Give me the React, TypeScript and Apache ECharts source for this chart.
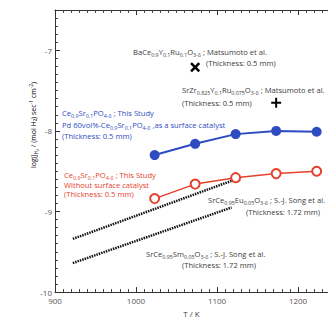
import React, { useEffect, useRef } from "react";
import * as echarts from "echarts";

const blueTemps = [1023, 1073, 1123, 1173, 1223];
const blueFlux = [-8.3, -8.16, -8.04, -8.0, -8.01];
const redTemps = [1023, 1073, 1123, 1173, 1223];
const redFlux = [-8.84, -8.66, -8.58, -8.53, -8.5];
const songEuTemps = [922, 1126];
const songEuFlux = [-9.34, -8.59];
const songSmTemps = [922, 1118];
const songSmFlux = [-9.64, -8.95];
const baCePoint = [1073, -7.21];
const srZrPoint = [1173, -7.65];
const xTicks = [900, 1000, 1100, 1200];
const yTicks = [-10, -9, -8, -7];

const TXT = "#3c3c3c";
const BLUE = "#2d4cc2";
const RED = "#e5412c";
const FONT = "Open Sans";

const X_PATH =
  "path://M1.8,0 L5,3.2 L8.2,0 L10,1.8 L6.8,5 L10,8.2 L8.2,10 L5,6.8 L1.8,10 L0,8.2 L3.2,5 L0,1.8 Z";
const PLUS_PATH = "path://M4,0 H6 V4 H10 V6 H6 V10 H4 V6 H0 V4 H4 Z";

function richFor(color: string, size: number) {
  return {
    n: { fontSize: size, color, fontFamily: FONT, lineHeight: 10, verticalAlign: "middle" },
    s: { fontSize: size * 0.7, color, fontFamily: FONT, lineHeight: 10, verticalAlign: "bottom", padding: [3, 0, 0, 0] },
    p: { fontSize: size * 0.7, color, fontFamily: FONT, lineHeight: 10, verticalAlign: "top" },
  };
}

function note(x: number, y: number, text: string, color: string = TXT, size = 7.6) {
  return {
    type: "text",
    x,
    y,
    z: 100,
    style: {
      text,
      rich: richFor(color, size),
      fill: color,
      font: `${size}px ${FONT}`,
      align: "left",
      verticalAlign: "middle",
    },
  };
}

export default function App() {
  const ref = useRef<HTMLDivElement>(null);
  useEffect(() => {
    if (!ref.current) return;
    const chart = echarts.init(ref.current, null, { renderer: "svg" });
    const zip = (a: number[], b: number[]) => a.map((v, i) => [v, b[i]]);
    const axisCommon = () => ({
      axisLine: { show: true, onZero: false, lineStyle: { color: "#333", width: 1 } },
      axisTick: { show: true, inside: true, length: 5, lineStyle: { color: "#333", width: 1 } },
      minorTick: { show: true, splitNumber: 10, length: 3, lineStyle: { color: "#444", width: 1 } },
      splitLine: { show: false },
      minorSplitLine: { show: false },
    });
    chart.setOption({
      animation: false,
      backgroundColor: "#ffffff",
      grid: { left: 55, right: 0, top: 10, bottom: 25, containLabel: false },
      xAxis: [
        {
          type: "value",
          min: 900,
          max: 1237,
          interval: 100,
          ...axisCommon(),
          name: "T / K",
          nameLocation: "middle",
          nameGap: 16,
          nameTextStyle: { fontSize: 8, color: TXT, fontFamily: FONT },
          axisLabel: {
            fontSize: 8,
            color: "#555",
            fontFamily: FONT,
            margin: 4,
            showMaxLabel: false,
            formatter: (v: number) => (xTicks.includes(v) ? String(v) : ""),
          },
        },
        {
          type: "value",
          position: "top",
          min: 900,
          max: 1237,
          interval: 100,
          ...axisCommon(),
          axisLabel: { show: false },
        },
      ],
      yAxis: [
        {
          type: "value",
          min: -10,
          max: -6.5,
          interval: 1,
          ...axisCommon(),
          axisLabel: {
            fontSize: 8,
            color: "#555",
            fontFamily: FONT,
            margin: 3,
            showMaxLabel: false,
            formatter: (v: number) => (yTicks.includes(v) ? String(v) : ""),
          },
        },
      ],
      series: [
        {
          type: "line",
          data: zip(songEuTemps, songEuFlux),
          symbol: "none",
          lineStyle: { color: "#111", width: 2.5, type: [1.5, 1], cap: "butt" },
          z: 2,
        },
        {
          type: "line",
          data: zip(songSmTemps, songSmFlux),
          symbol: "none",
          lineStyle: { color: "#111", width: 2.5, type: [1.5, 1], cap: "butt" },
          z: 2,
        },
        {
          type: "line",
          data: zip(blueTemps, blueFlux),
          symbol: "circle",
          symbolSize: 10,
          itemStyle: { color: BLUE },
          lineStyle: { color: BLUE, width: 2 },
          z: 4,
        },
        {
          type: "line",
          data: zip(redTemps, redFlux),
          symbol: "emptyCircle",
          symbolSize: 9,
          itemStyle: { color: RED, borderColor: RED, borderWidth: 0.9 },
          lineStyle: { color: RED, width: 1.5 },
          z: 4,
        },
        {
          type: "scatter",
          data: [baCePoint],
          symbol: X_PATH,
          symbolSize: 10,
          itemStyle: { color: "#000", opacity: 1 },
          z: 5,
        },
        {
          type: "scatter",
          data: [srZrPoint],
          symbol: PLUS_PATH,
          symbolSize: 10,
          itemStyle: { color: "#000", opacity: 1 },
          z: 5,
        },
      ],
      graphic: [
        {
          type: "text",
          x: 33,
          y: 125,
          rotation: Math.PI / 2,
          style: {
            text: "{n|log(J}{s|H₂}{n| / (mol H₂) sec}{p|-1}{n| cm}{p|-2}{n|)}",
            rich: richFor(TXT, 7),
            align: "center",
            verticalAlign: "middle",
          },
        },
        note(133, 52, "{n|BaCe}{s|0.9}{n|Y}{s|0.1}{n|Ru}{s|0.1}{n|O}{s|3-δ}{n| ; Matsumoto et al.}"),
        note(206, 63, "{n|(Thickness: 0.5 mm)}"),
        note(182, 90, "{n|SrZr}{s|0.825}{n|Y}{s|0.1}{n|Ru}{s|0.075}{n|O}{s|3-δ}{n| ; Matsumoto et al.}"),
        note(182, 103, "{n|(Thickness: 0.5 mm)}"),
        note(62, 113, "{n|Ce}{s|0.9}{n|Sr}{s|0.1}{n|PO}{s|4-δ}{n| ; This Study}", BLUE),
        note(62, 125, "{n|Pd 60vol%-Ce}{s|0.9}{n|Sr}{s|0.1}{n|PO}{s|4-δ}{n| ,as a surface catalyst}", BLUE),
        note(62, 136, "{n|(Thickness: 0.5 mm)}", BLUE),
        note(64, 175, "{n|Ce}{s|0.9}{n|Sr}{s|0.1}{n|PO}{s|4-δ}{n| ; This Study}", RED),
        note(64, 185, "{n|Without surface catalyst}", RED),
        note(64, 194, "{n|(Thickness: 0.5 mm)}", RED),
        note(208, 200, "{n|SrCe}{s|0.95}{n|Eu}{s|0.05}{n|O}{s|3-δ}{n| ; S.-J. Song et al.}"),
        note(246, 212, "{n|(Thickness: 1.72 mm)}"),
        note(146, 254, "{n|SrCe}{s|0.95}{n|Sm}{s|0.05}{n|O}{s|3-δ}{n| ; S.-J. Song et al.}"),
        note(182, 265, "{n|(Thickness: 1.72 mm)}"),
      ],
    });
    return () => chart.dispose();
  }, []);
  return (
    <div
      ref={ref}
      style={{ position: "fixed", left: 0, top: 0, width: 328, height: 322, background: "#fff", overflow: "hidden" }}
    />
  );
}
